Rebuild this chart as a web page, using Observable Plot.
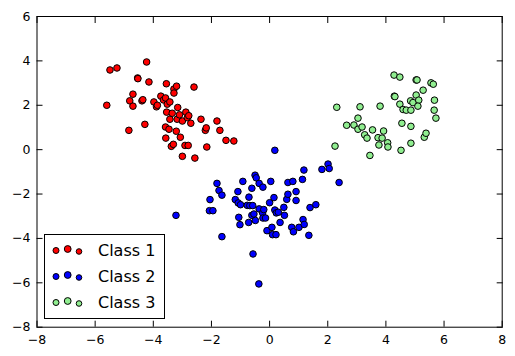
<!DOCTYPE html>
<html>
<head>
<meta charset="utf-8">
<script src="https://cdn.jsdelivr.net/npm/d3@7"></script>
<script src="https://cdn.jsdelivr.net/npm/@observablehq/plot@0.6"></script>
<style>
  html, body { margin: 0; padding: 0; background: white; }
  #chart { position: relative; width: 515px; height: 356px; }
</style>
</head>
<body>
<div id="chart"></div>
<script>
const classNames = ["Class 1", "Class 2", "Class 3"];
const classColors = ["#ff0000", "#0000ff", "#90ee90"];
const xTicks = [-8, -6, -4, -2, 0, 2, 4, 6, 8];
const yTicks = [-8, -6, -4, -2, 0, 2, 4, 6];

const class1Points = [[-5.6,2.0],[-5.49,3.59],[-5.25,3.68],[-4.84,0.87],[-4.81,2.2],[-4.70,2.5],[-4.70,1.96],[-4.54,3.23],[-4.53,3.2],[-4.39,2.2],[-4.36,2.25],[-4.29,1.14],[-4.23,3.95],[-4.15,3.05],[-3.98,2.15],[-3.89,1.93],[-3.86,2.0],[-3.74,2.41],[-3.65,2.24],[-3.58,2.33],[-3.55,2.97],[-3.52,2.05],[-3.54,1.69],[-3.43,2.15],[-3.58,1.02],[-3.57,0.52],[-3.46,0.92],[-3.43,1.37],[-3.35,1.64],[-3.38,0.15],[-3.31,0.24],[-3.29,2.73],[-3.29,2.55],[-3.20,2.86],[-3.21,0.83],[-3.16,1.90],[-3.18,1.37],[-3.10,1.57],[-3.07,0.56],[-3.00,1.29],[-3.00,-0.30],[-2.91,0.19],[-2.88,1.69],[-2.83,1.44],[-2.78,1.53],[-2.80,0.19],[-2.71,1.19],[-2.60,2.82],[-2.57,-0.38],[-2.36,1.37],[-2.21,0.87],[-2.18,0.98],[-2.16,0.12],[-1.81,1.29],[-1.71,0.87],[-1.50,0.42],[-1.23,0.39]];

const class2Points = [[-3.22,-2.96],[0.18,-0.03],[-1.81,-1.52],[-1.74,-1.84],[-1.64,-2.05],[-2.05,-2.25],[-2.07,-2.75],[-1.95,-2.75],[-1.64,-3.92],[-0.92,-1.43],[-1.09,-1.89],[-1.18,-2.25],[-1.08,-2.40],[-1.00,-2.48],[-0.71,-2.14],[-0.77,-2.51],[-0.68,-2.52],[-0.58,-2.52],[-1.06,-3.05],[-1.02,-3.38],[-0.72,-3.28],[-0.61,-2.96],[-0.54,-2.90],[-0.49,-3.19],[-0.50,-1.15],[-0.46,-1.27],[-0.36,-1.52],[-0.23,-1.69],[-0.61,-1.74],[-0.36,-2.67],[-0.24,-2.85],[-0.20,-2.70],[-0.23,-3.08],[-0.14,-3.08],[0.00,-2.39],[0.15,-2.16],[0.04,-1.43],[-0.09,-3.65],[0.08,-3.50],[0.10,-3.83],[0.22,-3.83],[0.18,-2.72],[0.23,-2.85],[0.30,-2.82],[0.49,-2.60],[0.51,-2.96],[0.36,-3.28],[0.59,-2.24],[0.63,-2.01],[0.91,-1.89],[0.91,-2.29],[0.63,-1.48],[0.80,-1.43],[1.13,-1.34],[1.18,-0.92],[0.76,-3.50],[0.82,-3.70],[1.01,-3.50],[1.15,-3.15],[1.19,-3.37],[1.35,-3.86],[1.39,-2.61],[1.59,-2.48],[1.80,-0.89],[2.01,-0.65],[2.05,-0.85],[2.39,-1.48],[-0.57,-4.70],[-0.37,-6.05]];

const class3Points = [[2.31,1.91],[2.25,0.16],[2.65,1.10],[2.90,1.11],[3.04,1.42],[3.04,0.92],[3.11,1.93],[3.18,1.02],[3.27,0.67],[3.35,0.52],[3.45,-0.26],[3.54,0.89],[3.73,0.54],[3.76,0.21],[3.80,1.96],[3.87,0.52],[3.92,0.84],[4.06,0.31],[4.07,0.12],[4.28,3.36],[4.48,3.27],[4.29,2.41],[4.31,2.39],[4.48,2.05],[4.52,-0.03],[4.55,1.19],[4.59,1.81],[4.70,1.78],[4.86,1.78],[4.85,2.20],[4.86,1.05],[4.86,0.29],[4.93,2.12],[5.04,3.14],[5.07,3.14],[5.04,2.46],[5.13,2.23],[5.10,1.96],[5.28,2.68],[5.32,0.56],[5.38,0.74],[5.55,3.01],[5.63,2.95],[5.67,2.23],[5.66,1.78],[5.72,1.42]];

const allClasses = [class1Points, class2Points, class3Points];

const dotMarks = allClasses.map((pts, i) =>
  Plot.dot(pts, {x: d => d[0], y: d => d[1], r: 3.3, fill: classColors[i], stroke: "black", strokeWidth: 1})
);

const chart = Plot.plot({
  width: 515,
  height: 356,
  marginLeft: 36.5,
  marginRight: 13.3,
  marginTop: 16,
  marginBottom: 29.3,
  style: {fontFamily: "DejaVu Sans", fontSize: "12.5px", background: "white", color: "black"},
  x: {domain: [-8, 8]},
  y: {domain: [-8, 6]},
  marks: [
    ...dotMarks,
    Plot.frame({stroke: "black", strokeWidth: 1}),
    Plot.axisX(xTicks, {anchor: "bottom", tickSize: -6, tickPadding: 14, label: null, fill: "black", stroke: "black"}),
    Plot.axisX(xTicks, {anchor: "top", tickSize: -6, tickFormat: () => "", label: null, stroke: "black"}),
    Plot.axisY(yTicks, {anchor: "left", tickSize: -6, tickPadding: 12.5, label: null, fill: "black", stroke: "black"}),
    Plot.axisY(yTicks, {anchor: "right", tickSize: -6, tickFormat: () => "", label: null, stroke: "black"})
  ]
});

document.getElementById("chart").appendChild(chart);

// Legend (lower left, inside axes)
const svg = d3.select(chart);
const lg = svg.append("g").attr("class", "legend");
const box = {x: 44.5, y: 234.5, w: 120, h: 84};
lg.append("rect").attr("x", box.x).attr("y", box.y).attr("width", box.w).attr("height", box.h)
  .attr("fill", "white").attr("stroke", "black").attr("stroke-width", 1);
const markerDX = [56, 67.7, 79];
const markerDY = [0.5, -1, 1.5];
const markerR = [3.0, 3.4, 2.8];
classNames.forEach((name, i) => {
  const cy = 250 + i * 26;
  markerDX.forEach((mx, j) => {
    lg.append("circle").attr("cx", mx).attr("cy", cy + markerDY[j]).attr("r", markerR[j])
      .attr("fill", classColors[i]).attr("stroke", "black").attr("stroke-width", 1);
  });
  lg.append("text").attr("x", 98).attr("y", cy).attr("dy", "0.36em")
    .style("text-anchor", "start")
    .style("font-family", "DejaVu Sans").style("font-size", "16px").style("fill", "black")
    .text(name);
});
</script>
</body>
</html>
